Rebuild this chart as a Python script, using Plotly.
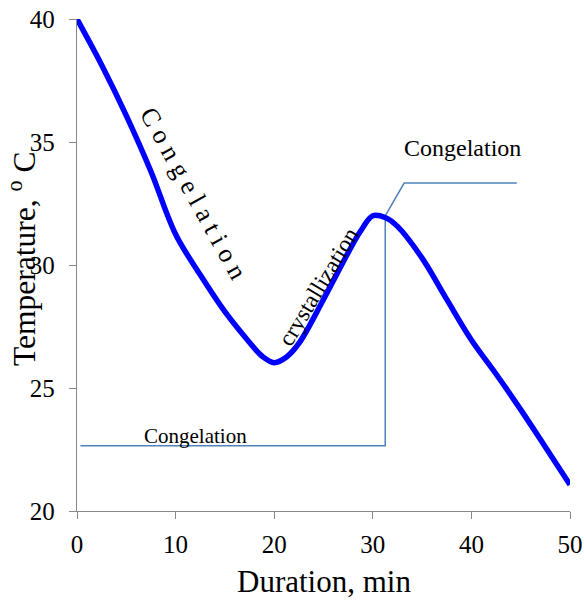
import plotly.graph_objects as go

# Cooling curve data (duration in min, temperature in °C)
duration = [0, 2.5, 5, 7.5, 10, 12.5, 15, 17.5, 18.75, 20, 21.25, 22.5, 25, 27.5, 28.75, 30,
            31.25, 32.5, 35, 37.5, 40, 42.5, 45, 47.5, 50]
temperature = [40.0, 38.13, 36.07, 33.8, 31.25, 29.6, 28.1, 26.85, 26.3, 26.03, 26.26, 26.81, 28.6, 30.5,
               31.37, 32.0, 31.93, 31.57, 30.28, 28.6, 26.95, 25.57, 24.12, 22.6, 21.07]

# Callout leader lines
callout1_x = [0.35, 31.26, 31.26]
callout1_y = [22.65, 22.65, 32.0]
callout2_x = [31.26, 33.18, 44.6]
callout2_y = [32.0, 33.33, 33.33]

x_ticks = [0, 10, 20, 30, 40, 50]
y_ticks = [20, 25, 30, 35, 40]

FONT = "Liberation Serif, Times New Roman, serif"
AXIS_GREY = "#898989"
CALLOUT = "#4F81BD"

fig = go.Figure()
fig.add_trace(go.Scatter(x=callout1_x, y=callout1_y, mode="lines",
                         line=dict(color=CALLOUT, width=1.5), showlegend=False, hoverinfo="skip"))
fig.add_trace(go.Scatter(x=callout2_x, y=callout2_y, mode="lines",
                         line=dict(color=CALLOUT, width=1.5), showlegend=False, hoverinfo="skip"))
fig.add_trace(go.Scatter(x=duration, y=temperature, mode="lines",
                         line=dict(color="#0000FF", width=5.5, shape="spline", smoothing=1.0),
                         showlegend=False, cliponaxis=False))

fig.update_layout(
    width=584, height=601,
    margin=dict(l=77, r=14, t=19, b=90, autoexpand=False),
    paper_bgcolor="white", plot_bgcolor="white",
    font=dict(family=FONT, color="black"),
    xaxis=dict(range=[0, 50], tickvals=x_ticks, showgrid=False, zeroline=False,
               showline=True, linecolor=AXIS_GREY, linewidth=1.3, automargin=False,
               ticks="outside", ticklen=7, tickcolor=AXIS_GREY, tickwidth=1.3,
               tickfont=dict(family=FONT, size=25, color="black"), ticklabelstandoff=4),
    yaxis=dict(range=[20, 40], tickvals=y_ticks, showgrid=False, zeroline=False,
               showline=True, linecolor=AXIS_GREY, linewidth=1.3, automargin=False,
               ticks="outside", ticklen=7, tickcolor=AXIS_GREY, tickwidth=1.3,
               tickfont=dict(family=FONT, size=25, color="black"), ticklabelstandoff=9),
)

annotations = [
    dict(text="Duration, min", xref="paper", yref="paper", x=0.5, y=-0.143,
         xanchor="center", yanchor="middle", font=dict(size=31)),
    dict(text="Temperature, <sup>o</sup> C", xref="paper", yref="paper", x=-0.1118, y=0.512,
         xanchor="center", yanchor="middle", textangle=-90, font=dict(size=31.5)),
    dict(text="C o n g e l a t i o n", x=11.8, y=32.9, textangle=61,
         xanchor="center", yanchor="middle", font=dict(size=26)),
    dict(text="crystallization", x=24.45, y=29.1, textangle=-59,
         xanchor="center", yanchor="middle", font=dict(size=23.5)),
    dict(text="Congelation", x=12.06, y=23.04,
         xanchor="center", yanchor="middle", font=dict(size=21)),
    dict(text="Congelation", x=39.1, y=34.77,
         xanchor="center", yanchor="middle", font=dict(size=24)),
]
for a in annotations:
    a["showarrow"] = False
    a["font"]["family"] = FONT
    a["font"]["color"] = "black"
fig.update_layout(annotations=annotations)

fig.write_html("out.html")
